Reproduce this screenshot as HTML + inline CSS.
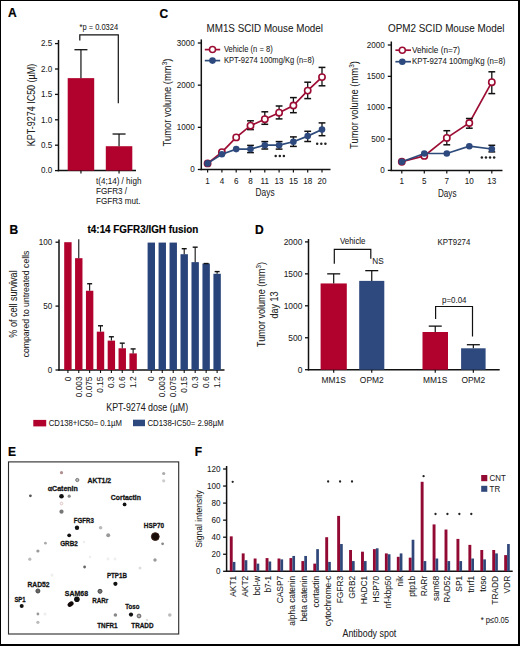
<!DOCTYPE html>
<html><head><meta charset="utf-8"><style>
html,body{margin:0;padding:0;background:#fff;}
body{width:520px;height:646px;overflow:hidden;position:relative;}
svg{position:absolute;left:0;top:0;font-family:"Liberation Sans",sans-serif;}
</style></head><body>
<svg width="520" height="646" viewBox="0 0 520 646">
<rect x="0" y="0" width="520" height="646" fill="#fff"/>
<text x="8.00" y="17.00" font-size="12" text-anchor="start" font-weight="700" fill="#000" stroke="#000" stroke-width="0.2" transform="translate(0 -2.210) scale(1 1.13)">A</text>
<line x1="58.50" y1="40.00" x2="58.50" y2="171.30" stroke="#111" stroke-width="1.5"/>
<line x1="57.80" y1="170.60" x2="136.00" y2="170.60" stroke="#111" stroke-width="1.5"/>
<line x1="55.00" y1="170.60" x2="58.50" y2="170.60" stroke="#111" stroke-width="1.3"/>
<text x="52.30" y="173.50" font-size="8.1" text-anchor="end" font-weight="400" fill="#202020" stroke="#202020" stroke-width="0.05" transform="translate(0 -22.555) scale(1 1.13)">0.0</text>
<line x1="55.00" y1="145.20" x2="58.50" y2="145.20" stroke="#111" stroke-width="1.3"/>
<text x="52.30" y="148.10" font-size="8.1" text-anchor="end" font-weight="400" fill="#202020" stroke="#202020" stroke-width="0.05" transform="translate(0 -19.253) scale(1 1.13)">0.5</text>
<line x1="55.00" y1="119.80" x2="58.50" y2="119.80" stroke="#111" stroke-width="1.3"/>
<text x="52.30" y="122.70" font-size="8.1" text-anchor="end" font-weight="400" fill="#202020" stroke="#202020" stroke-width="0.05" transform="translate(0 -15.951) scale(1 1.13)">1.0</text>
<line x1="55.00" y1="94.40" x2="58.50" y2="94.40" stroke="#111" stroke-width="1.3"/>
<text x="52.30" y="97.30" font-size="8.1" text-anchor="end" font-weight="400" fill="#202020" stroke="#202020" stroke-width="0.05" transform="translate(0 -12.649) scale(1 1.13)">1.5</text>
<line x1="55.00" y1="69.00" x2="58.50" y2="69.00" stroke="#111" stroke-width="1.3"/>
<text x="52.30" y="71.90" font-size="8.1" text-anchor="end" font-weight="400" fill="#202020" stroke="#202020" stroke-width="0.05" transform="translate(0 -9.347) scale(1 1.13)">2.0</text>
<line x1="55.00" y1="43.60" x2="58.50" y2="43.60" stroke="#111" stroke-width="1.3"/>
<text x="52.30" y="46.50" font-size="8.1" text-anchor="end" font-weight="400" fill="#202020" stroke="#202020" stroke-width="0.05" transform="translate(0 -6.045) scale(1 1.13)">2.5</text>
<rect x="67.70" y="78.14" width="26.50" height="92.46" fill="#b0022c"/>
<line x1="80.95" y1="78.14" x2="80.95" y2="49.70" stroke="#111" stroke-width="1.2"/>
<line x1="74.45" y1="49.70" x2="87.45" y2="49.70" stroke="#111" stroke-width="1.3"/>
<line x1="80.95" y1="170.60" x2="80.95" y2="173.60" stroke="#111" stroke-width="1.2"/>
<rect x="105.80" y="146.22" width="26.50" height="24.38" fill="#b0022c"/>
<line x1="119.05" y1="146.22" x2="119.05" y2="134.02" stroke="#111" stroke-width="1.2"/>
<line x1="112.55" y1="134.02" x2="125.55" y2="134.02" stroke="#111" stroke-width="1.3"/>
<line x1="119.05" y1="170.60" x2="119.05" y2="173.60" stroke="#111" stroke-width="1.2"/>
<path d="M79.8 40.4 V34.8 H118.3 V103.3" stroke="#111" stroke-width="1.2" fill="none"/>
<text x="79.50" y="30.20" font-size="7.5" text-anchor="start" font-weight="400" fill="#202020" stroke="#202020" stroke-width="0.05" transform="translate(0 -3.926) scale(1 1.13)" textLength="38.6" lengthAdjust="spacingAndGlyphs">*p = 0.0324</text>
<text x="35.00" y="105.00" font-size="9" text-anchor="middle" font-weight="400" fill="#202020" stroke="#202020" stroke-width="0.05" transform="rotate(-90 35.00 105.00) translate(0 -13.650) scale(1 1.13)" textLength="82.4" lengthAdjust="spacingAndGlyphs">KPT-9274 IC50 (µM)</text>
<text x="96.00" y="184.00" font-size="8.1" text-anchor="start" font-weight="400" fill="#202020" stroke="#202020" stroke-width="0.05" transform="translate(0 -23.920) scale(1 1.13)">t(4;14) / high</text>
<text x="96.00" y="193.80" font-size="8.1" text-anchor="start" font-weight="400" fill="#202020" stroke="#202020" stroke-width="0.05" transform="translate(0 -25.194) scale(1 1.13)">FGFR3 /</text>
<text x="96.00" y="203.60" font-size="8.1" text-anchor="start" font-weight="400" fill="#202020" stroke="#202020" stroke-width="0.05" transform="translate(0 -26.468) scale(1 1.13)">FGFR3 mut.</text>
<text x="159.60" y="17.70" font-size="12" text-anchor="start" font-weight="700" fill="#000" stroke="#000" stroke-width="0.2" transform="translate(0 -2.301) scale(1 1.13)">C</text>
<text x="206.50" y="32.50" font-size="9.85" text-anchor="start" font-weight="400" fill="#202020" stroke="#202020" stroke-width="0.05" transform="translate(0 -4.225) scale(1 1.13)" textLength="116.5" lengthAdjust="spacingAndGlyphs">MM1S SCID Mouse Model</text>
<line x1="201.30" y1="39.40" x2="201.30" y2="170.20" stroke="#111" stroke-width="1.5"/>
<line x1="200.60" y1="169.50" x2="330.50" y2="169.50" stroke="#111" stroke-width="1.5"/>
<line x1="197.80" y1="169.50" x2="201.30" y2="169.50" stroke="#111" stroke-width="1.3"/>
<text x="194.70" y="172.30" font-size="8.1" text-anchor="end" font-weight="400" fill="#202020" stroke="#202020" stroke-width="0.05" transform="translate(0 -22.399) scale(1 1.13)">0</text>
<line x1="197.80" y1="127.33" x2="201.30" y2="127.33" stroke="#111" stroke-width="1.3"/>
<text x="194.70" y="130.13" font-size="8.1" text-anchor="end" font-weight="400" fill="#202020" stroke="#202020" stroke-width="0.05" transform="translate(0 -16.917) scale(1 1.13)">1000</text>
<line x1="197.80" y1="85.16" x2="201.30" y2="85.16" stroke="#111" stroke-width="1.3"/>
<text x="194.70" y="87.96" font-size="8.1" text-anchor="end" font-weight="400" fill="#202020" stroke="#202020" stroke-width="0.05" transform="translate(0 -11.435) scale(1 1.13)">2000</text>
<line x1="197.80" y1="42.99" x2="201.30" y2="42.99" stroke="#111" stroke-width="1.3"/>
<text x="194.70" y="45.79" font-size="8.1" text-anchor="end" font-weight="400" fill="#202020" stroke="#202020" stroke-width="0.05" transform="translate(0 -5.953) scale(1 1.13)">3000</text>
<line x1="207.60" y1="169.50" x2="207.60" y2="172.50" stroke="#111" stroke-width="1.2"/>
<text x="207.60" y="183.80" font-size="8.1" text-anchor="middle" font-weight="400" fill="#202020" stroke="#202020" stroke-width="0.05" transform="translate(0 -23.894) scale(1 1.13)">1</text>
<line x1="221.90" y1="169.50" x2="221.90" y2="172.50" stroke="#111" stroke-width="1.2"/>
<text x="221.90" y="183.80" font-size="8.1" text-anchor="middle" font-weight="400" fill="#202020" stroke="#202020" stroke-width="0.05" transform="translate(0 -23.894) scale(1 1.13)">4</text>
<line x1="236.20" y1="169.50" x2="236.20" y2="172.50" stroke="#111" stroke-width="1.2"/>
<text x="236.20" y="183.80" font-size="8.1" text-anchor="middle" font-weight="400" fill="#202020" stroke="#202020" stroke-width="0.05" transform="translate(0 -23.894) scale(1 1.13)">6</text>
<line x1="250.50" y1="169.50" x2="250.50" y2="172.50" stroke="#111" stroke-width="1.2"/>
<text x="250.50" y="183.80" font-size="8.1" text-anchor="middle" font-weight="400" fill="#202020" stroke="#202020" stroke-width="0.05" transform="translate(0 -23.894) scale(1 1.13)">8</text>
<line x1="264.80" y1="169.50" x2="264.80" y2="172.50" stroke="#111" stroke-width="1.2"/>
<text x="264.80" y="183.80" font-size="8.1" text-anchor="middle" font-weight="400" fill="#202020" stroke="#202020" stroke-width="0.05" transform="translate(0 -23.894) scale(1 1.13)">11</text>
<line x1="279.10" y1="169.50" x2="279.10" y2="172.50" stroke="#111" stroke-width="1.2"/>
<text x="279.10" y="183.80" font-size="8.1" text-anchor="middle" font-weight="400" fill="#202020" stroke="#202020" stroke-width="0.05" transform="translate(0 -23.894) scale(1 1.13)">13</text>
<line x1="293.40" y1="169.50" x2="293.40" y2="172.50" stroke="#111" stroke-width="1.2"/>
<text x="293.40" y="183.80" font-size="8.1" text-anchor="middle" font-weight="400" fill="#202020" stroke="#202020" stroke-width="0.05" transform="translate(0 -23.894) scale(1 1.13)">15</text>
<line x1="307.70" y1="169.50" x2="307.70" y2="172.50" stroke="#111" stroke-width="1.2"/>
<text x="307.70" y="183.80" font-size="8.1" text-anchor="middle" font-weight="400" fill="#202020" stroke="#202020" stroke-width="0.05" transform="translate(0 -23.894) scale(1 1.13)">18</text>
<line x1="322.00" y1="169.50" x2="322.00" y2="172.50" stroke="#111" stroke-width="1.2"/>
<text x="322.00" y="183.80" font-size="8.1" text-anchor="middle" font-weight="400" fill="#202020" stroke="#202020" stroke-width="0.05" transform="translate(0 -23.894) scale(1 1.13)">20</text>
<text x="255.60" y="196.00" font-size="9.6" text-anchor="start" font-weight="400" fill="#202020" stroke="#202020" stroke-width="0.05" transform="translate(0 -25.480) scale(1 1.13)" textLength="19" lengthAdjust="spacingAndGlyphs">Days</text>
<text x="171.50" y="102.50" font-size="9.4" text-anchor="middle" font-weight="400" fill="#202020" stroke="#202020" stroke-width="0.05" transform="rotate(-90 171.50 102.50) translate(0 -13.325) scale(1 1.13)">Tumor volume (mm<tspan dy="-3.6" font-size="6.5">3</tspan><tspan dy="3.6">)</tspan></text>
<path d="M207.60 163.40 L221.90 152.20 L236.20 137.40 L250.50 125.70 L264.80 119.20 L279.10 112.70 L293.40 105.50 L307.70 90.60 L322.00 77.10" stroke="#9c0c33" stroke-width="1.7" fill="none"/>
<line x1="250.50" y1="120.80" x2="250.50" y2="129.60" stroke="#111" stroke-width="1.3"/>
<line x1="247.10" y1="120.80" x2="253.90" y2="120.80" stroke="#111" stroke-width="1.5"/>
<line x1="247.10" y1="129.60" x2="253.90" y2="129.60" stroke="#111" stroke-width="1.5"/>
<line x1="264.80" y1="111.80" x2="264.80" y2="124.30" stroke="#111" stroke-width="1.3"/>
<line x1="261.40" y1="111.80" x2="268.20" y2="111.80" stroke="#111" stroke-width="1.5"/>
<line x1="261.40" y1="124.30" x2="268.20" y2="124.30" stroke="#111" stroke-width="1.5"/>
<line x1="279.10" y1="106.00" x2="279.10" y2="118.90" stroke="#111" stroke-width="1.3"/>
<line x1="275.70" y1="106.00" x2="282.50" y2="106.00" stroke="#111" stroke-width="1.5"/>
<line x1="275.70" y1="118.90" x2="282.50" y2="118.90" stroke="#111" stroke-width="1.5"/>
<line x1="293.40" y1="97.60" x2="293.40" y2="112.70" stroke="#111" stroke-width="1.3"/>
<line x1="290.00" y1="97.60" x2="296.80" y2="97.60" stroke="#111" stroke-width="1.5"/>
<line x1="290.00" y1="112.70" x2="296.80" y2="112.70" stroke="#111" stroke-width="1.5"/>
<line x1="307.70" y1="82.20" x2="307.70" y2="98.60" stroke="#111" stroke-width="1.3"/>
<line x1="304.30" y1="82.20" x2="311.10" y2="82.20" stroke="#111" stroke-width="1.5"/>
<line x1="304.30" y1="98.60" x2="311.10" y2="98.60" stroke="#111" stroke-width="1.5"/>
<line x1="322.00" y1="67.40" x2="322.00" y2="85.80" stroke="#111" stroke-width="1.3"/>
<line x1="318.60" y1="67.40" x2="325.40" y2="67.40" stroke="#111" stroke-width="1.5"/>
<line x1="318.60" y1="85.80" x2="325.40" y2="85.80" stroke="#111" stroke-width="1.5"/>
<circle cx="207.60" cy="163.40" r="3.15" fill="#fff" stroke="#9c0c33" stroke-width="1.6" opacity="1"/>
<circle cx="221.90" cy="152.20" r="3.15" fill="#fff" stroke="#9c0c33" stroke-width="1.6" opacity="1"/>
<circle cx="236.20" cy="137.40" r="3.15" fill="#fff" stroke="#9c0c33" stroke-width="1.6" opacity="1"/>
<circle cx="250.50" cy="125.70" r="3.15" fill="#fff" stroke="#9c0c33" stroke-width="1.6" opacity="1"/>
<circle cx="264.80" cy="119.20" r="3.15" fill="#fff" stroke="#9c0c33" stroke-width="1.6" opacity="1"/>
<circle cx="279.10" cy="112.70" r="3.15" fill="#fff" stroke="#9c0c33" stroke-width="1.6" opacity="1"/>
<circle cx="293.40" cy="105.50" r="3.15" fill="#fff" stroke="#9c0c33" stroke-width="1.6" opacity="1"/>
<circle cx="307.70" cy="90.60" r="3.15" fill="#fff" stroke="#9c0c33" stroke-width="1.6" opacity="1"/>
<circle cx="322.00" cy="77.10" r="3.15" fill="#fff" stroke="#9c0c33" stroke-width="1.6" opacity="1"/>
<path d="M207.60 163.40 L221.90 154.30 L236.20 149.10 L250.50 149.10 L264.80 145.20 L279.10 145.20 L293.40 141.80 L307.70 136.10 L322.00 129.60" stroke="#2c4a7a" stroke-width="1.7" fill="none"/>
<line x1="250.50" y1="145.40" x2="250.50" y2="152.60" stroke="#111" stroke-width="1.3"/>
<line x1="247.10" y1="145.40" x2="253.90" y2="145.40" stroke="#111" stroke-width="1.5"/>
<line x1="247.10" y1="152.60" x2="253.90" y2="152.60" stroke="#111" stroke-width="1.5"/>
<line x1="264.80" y1="141.60" x2="264.80" y2="149.00" stroke="#111" stroke-width="1.3"/>
<line x1="261.40" y1="141.60" x2="268.20" y2="141.60" stroke="#111" stroke-width="1.5"/>
<line x1="261.40" y1="149.00" x2="268.20" y2="149.00" stroke="#111" stroke-width="1.5"/>
<line x1="279.10" y1="141.60" x2="279.10" y2="149.10" stroke="#111" stroke-width="1.3"/>
<line x1="275.70" y1="141.60" x2="282.50" y2="141.60" stroke="#111" stroke-width="1.5"/>
<line x1="275.70" y1="149.10" x2="282.50" y2="149.10" stroke="#111" stroke-width="1.5"/>
<line x1="293.40" y1="136.90" x2="293.40" y2="146.40" stroke="#111" stroke-width="1.3"/>
<line x1="290.00" y1="136.90" x2="296.80" y2="136.90" stroke="#111" stroke-width="1.5"/>
<line x1="290.00" y1="146.40" x2="296.80" y2="146.40" stroke="#111" stroke-width="1.5"/>
<line x1="307.70" y1="131.30" x2="307.70" y2="141.50" stroke="#111" stroke-width="1.3"/>
<line x1="304.30" y1="131.30" x2="311.10" y2="131.30" stroke="#111" stroke-width="1.5"/>
<line x1="304.30" y1="141.50" x2="311.10" y2="141.50" stroke="#111" stroke-width="1.5"/>
<line x1="322.00" y1="122.90" x2="322.00" y2="135.70" stroke="#111" stroke-width="1.3"/>
<line x1="318.60" y1="122.90" x2="325.40" y2="122.90" stroke="#111" stroke-width="1.5"/>
<line x1="318.60" y1="135.70" x2="325.40" y2="135.70" stroke="#111" stroke-width="1.5"/>
<circle cx="207.60" cy="163.40" r="3.30" fill="#2d497e" stroke="none" stroke-width="0" opacity="1"/>
<circle cx="221.90" cy="154.30" r="3.30" fill="#2d497e" stroke="none" stroke-width="0" opacity="1"/>
<circle cx="236.20" cy="149.10" r="3.30" fill="#2d497e" stroke="none" stroke-width="0" opacity="1"/>
<circle cx="250.50" cy="149.10" r="3.30" fill="#2d497e" stroke="none" stroke-width="0" opacity="1"/>
<circle cx="264.80" cy="145.20" r="3.30" fill="#2d497e" stroke="none" stroke-width="0" opacity="1"/>
<circle cx="279.10" cy="145.20" r="3.30" fill="#2d497e" stroke="none" stroke-width="0" opacity="1"/>
<circle cx="293.40" cy="141.80" r="3.30" fill="#2d497e" stroke="none" stroke-width="0" opacity="1"/>
<circle cx="307.70" cy="136.10" r="3.30" fill="#2d497e" stroke="none" stroke-width="0" opacity="1"/>
<circle cx="322.00" cy="129.60" r="3.30" fill="#2d497e" stroke="none" stroke-width="0" opacity="1"/>
<line x1="204.80" y1="49.60" x2="220.20" y2="49.60" stroke="#9c0c33" stroke-width="1.7"/>
<circle cx="212.50" cy="49.60" r="3.00" fill="#fff" stroke="#9c0c33" stroke-width="1.5" opacity="1"/>
<line x1="204.80" y1="60.60" x2="220.20" y2="60.60" stroke="#2c4a7a" stroke-width="1.7"/>
<circle cx="212.50" cy="60.60" r="3.30" fill="#2d497e" stroke="none" stroke-width="0" opacity="1"/>
<text x="223.90" y="52.40" font-size="7.6" text-anchor="start" font-weight="400" fill="#202020" stroke="#202020" stroke-width="0.05" transform="translate(0 -6.812) scale(1 1.13)" textLength="48.8" lengthAdjust="spacingAndGlyphs">Vehicle (n = 8)</text>
<text x="223.90" y="63.40" font-size="7.6" text-anchor="start" font-weight="400" fill="#202020" stroke="#202020" stroke-width="0.05" transform="translate(0 -8.242) scale(1 1.13)" textLength="90.4" lengthAdjust="spacingAndGlyphs">KPT-9274 100mg/Kg (n=8)</text>
<circle cx="275.70" cy="156.10" r="1.25" fill="#222" stroke="none" stroke-width="0" opacity="1"/>
<circle cx="279.80" cy="156.10" r="1.25" fill="#222" stroke="none" stroke-width="0" opacity="1"/>
<circle cx="283.90" cy="156.10" r="1.25" fill="#222" stroke="none" stroke-width="0" opacity="1"/>
<circle cx="317.20" cy="143.80" r="1.25" fill="#222" stroke="none" stroke-width="0" opacity="1"/>
<circle cx="321.30" cy="143.80" r="1.25" fill="#222" stroke="none" stroke-width="0" opacity="1"/>
<circle cx="325.40" cy="143.80" r="1.25" fill="#222" stroke="none" stroke-width="0" opacity="1"/>
<text x="388.00" y="32.50" font-size="9.85" text-anchor="start" font-weight="400" fill="#202020" stroke="#202020" stroke-width="0.05" transform="translate(0 -4.225) scale(1 1.13)" textLength="116.5" lengthAdjust="spacingAndGlyphs">OPM2 SCID Mouse Model</text>
<line x1="391.30" y1="41.50" x2="391.30" y2="171.10" stroke="#111" stroke-width="1.5"/>
<line x1="390.60" y1="170.40" x2="502.50" y2="170.40" stroke="#111" stroke-width="1.5"/>
<line x1="387.80" y1="170.40" x2="391.30" y2="170.40" stroke="#111" stroke-width="1.3"/>
<text x="384.70" y="173.20" font-size="8.1" text-anchor="end" font-weight="400" fill="#202020" stroke="#202020" stroke-width="0.05" transform="translate(0 -22.516) scale(1 1.13)">0</text>
<line x1="387.80" y1="139.05" x2="391.30" y2="139.05" stroke="#111" stroke-width="1.3"/>
<text x="384.70" y="141.85" font-size="8.1" text-anchor="end" font-weight="400" fill="#202020" stroke="#202020" stroke-width="0.05" transform="translate(0 -18.440) scale(1 1.13)">500</text>
<line x1="387.80" y1="107.70" x2="391.30" y2="107.70" stroke="#111" stroke-width="1.3"/>
<text x="384.70" y="110.50" font-size="8.1" text-anchor="end" font-weight="400" fill="#202020" stroke="#202020" stroke-width="0.05" transform="translate(0 -14.365) scale(1 1.13)">1000</text>
<line x1="387.80" y1="76.35" x2="391.30" y2="76.35" stroke="#111" stroke-width="1.3"/>
<text x="384.70" y="79.15" font-size="8.1" text-anchor="end" font-weight="400" fill="#202020" stroke="#202020" stroke-width="0.05" transform="translate(0 -10.289) scale(1 1.13)">1500</text>
<line x1="387.80" y1="45.00" x2="391.30" y2="45.00" stroke="#111" stroke-width="1.3"/>
<text x="384.70" y="47.80" font-size="8.1" text-anchor="end" font-weight="400" fill="#202020" stroke="#202020" stroke-width="0.05" transform="translate(0 -6.214) scale(1 1.13)">2000</text>
<line x1="401.80" y1="170.40" x2="401.80" y2="173.40" stroke="#111" stroke-width="1.2"/>
<text x="401.80" y="183.80" font-size="8.1" text-anchor="middle" font-weight="400" fill="#202020" stroke="#202020" stroke-width="0.05" transform="translate(0 -23.894) scale(1 1.13)">1</text>
<line x1="424.30" y1="170.40" x2="424.30" y2="173.40" stroke="#111" stroke-width="1.2"/>
<text x="424.30" y="183.80" font-size="8.1" text-anchor="middle" font-weight="400" fill="#202020" stroke="#202020" stroke-width="0.05" transform="translate(0 -23.894) scale(1 1.13)">5</text>
<line x1="446.80" y1="170.40" x2="446.80" y2="173.40" stroke="#111" stroke-width="1.2"/>
<text x="446.80" y="183.80" font-size="8.1" text-anchor="middle" font-weight="400" fill="#202020" stroke="#202020" stroke-width="0.05" transform="translate(0 -23.894) scale(1 1.13)">7</text>
<line x1="469.30" y1="170.40" x2="469.30" y2="173.40" stroke="#111" stroke-width="1.2"/>
<text x="469.30" y="183.80" font-size="8.1" text-anchor="middle" font-weight="400" fill="#202020" stroke="#202020" stroke-width="0.05" transform="translate(0 -23.894) scale(1 1.13)">10</text>
<line x1="491.80" y1="170.40" x2="491.80" y2="173.40" stroke="#111" stroke-width="1.2"/>
<text x="491.80" y="183.80" font-size="8.1" text-anchor="middle" font-weight="400" fill="#202020" stroke="#202020" stroke-width="0.05" transform="translate(0 -23.894) scale(1 1.13)">13</text>
<text x="438.00" y="196.60" font-size="9.6" text-anchor="start" font-weight="400" fill="#202020" stroke="#202020" stroke-width="0.05" transform="translate(0 -25.558) scale(1 1.13)" textLength="18.5" lengthAdjust="spacingAndGlyphs">Days</text>
<text x="357.80" y="105.00" font-size="9.4" text-anchor="middle" font-weight="400" fill="#202020" stroke="#202020" stroke-width="0.05" transform="rotate(-90 357.80 105.00) translate(0 -13.650) scale(1 1.13)">Tumor volume (mm<tspan dy="-3.6" font-size="6.5">3</tspan><tspan dy="3.6">)</tspan></text>
<path d="M401.80 161.80 L424.30 155.90 L446.80 137.90 L469.30 123.00 L491.80 82.20" stroke="#9c0c33" stroke-width="1.7" fill="none"/>
<line x1="446.80" y1="130.70" x2="446.80" y2="144.80" stroke="#111" stroke-width="1.3"/>
<line x1="443.40" y1="130.70" x2="450.20" y2="130.70" stroke="#111" stroke-width="1.5"/>
<line x1="443.40" y1="144.80" x2="450.20" y2="144.80" stroke="#111" stroke-width="1.5"/>
<line x1="469.30" y1="118.50" x2="469.30" y2="128.20" stroke="#111" stroke-width="1.3"/>
<line x1="465.90" y1="118.50" x2="472.70" y2="118.50" stroke="#111" stroke-width="1.5"/>
<line x1="465.90" y1="128.20" x2="472.70" y2="128.20" stroke="#111" stroke-width="1.5"/>
<line x1="491.80" y1="71.80" x2="491.80" y2="93.60" stroke="#111" stroke-width="1.3"/>
<line x1="488.40" y1="71.80" x2="495.20" y2="71.80" stroke="#111" stroke-width="1.5"/>
<line x1="488.40" y1="93.60" x2="495.20" y2="93.60" stroke="#111" stroke-width="1.5"/>
<circle cx="401.80" cy="161.80" r="3.15" fill="#fff" stroke="#9c0c33" stroke-width="1.6" opacity="1"/>
<circle cx="424.30" cy="155.90" r="3.15" fill="#fff" stroke="#9c0c33" stroke-width="1.6" opacity="1"/>
<circle cx="446.80" cy="137.90" r="3.15" fill="#fff" stroke="#9c0c33" stroke-width="1.6" opacity="1"/>
<circle cx="469.30" cy="123.00" r="3.15" fill="#fff" stroke="#9c0c33" stroke-width="1.6" opacity="1"/>
<circle cx="491.80" cy="82.20" r="3.15" fill="#fff" stroke="#9c0c33" stroke-width="1.6" opacity="1"/>
<path d="M401.80 161.80 L424.30 153.50 L446.80 153.50 L469.30 146.20 L491.80 149.00" stroke="#2c4a7a" stroke-width="1.7" fill="none"/>
<line x1="491.80" y1="145.30" x2="491.80" y2="151.90" stroke="#111" stroke-width="1.3"/>
<line x1="488.40" y1="145.30" x2="495.20" y2="145.30" stroke="#111" stroke-width="1.5"/>
<line x1="488.40" y1="151.90" x2="495.20" y2="151.90" stroke="#111" stroke-width="1.5"/>
<circle cx="401.80" cy="161.80" r="3.30" fill="#2d497e" stroke="none" stroke-width="0" opacity="1"/>
<circle cx="424.30" cy="153.50" r="3.30" fill="#2d497e" stroke="none" stroke-width="0" opacity="1"/>
<circle cx="446.80" cy="153.50" r="3.30" fill="#2d497e" stroke="none" stroke-width="0" opacity="1"/>
<circle cx="469.30" cy="146.20" r="3.30" fill="#2d497e" stroke="none" stroke-width="0" opacity="1"/>
<circle cx="491.80" cy="149.00" r="3.30" fill="#2d497e" stroke="none" stroke-width="0" opacity="1"/>
<line x1="395.40" y1="50.20" x2="411.00" y2="50.20" stroke="#9c0c33" stroke-width="1.7"/>
<circle cx="402.30" cy="50.20" r="3.00" fill="#fff" stroke="#9c0c33" stroke-width="1.5" opacity="1"/>
<line x1="395.40" y1="61.70" x2="411.00" y2="61.70" stroke="#2c4a7a" stroke-width="1.7"/>
<circle cx="402.30" cy="61.70" r="3.30" fill="#2d497e" stroke="none" stroke-width="0" opacity="1"/>
<text x="412.00" y="53.00" font-size="7.8" text-anchor="start" font-weight="400" fill="#202020" stroke="#202020" stroke-width="0.05" transform="translate(0 -6.890) scale(1 1.13)" textLength="48" lengthAdjust="spacingAndGlyphs">Vehicle (n=7)</text>
<text x="412.00" y="64.50" font-size="7.8" text-anchor="start" font-weight="400" fill="#202020" stroke="#202020" stroke-width="0.05" transform="translate(0 -8.385) scale(1 1.13)" textLength="93.4" lengthAdjust="spacingAndGlyphs">KPT-9274 100mg/Kg (n=8)</text>
<circle cx="481.85" cy="157.60" r="1.25" fill="#222" stroke="none" stroke-width="0" opacity="1"/>
<circle cx="485.95" cy="157.60" r="1.25" fill="#222" stroke="none" stroke-width="0" opacity="1"/>
<circle cx="490.05" cy="157.60" r="1.25" fill="#222" stroke="none" stroke-width="0" opacity="1"/>
<circle cx="494.15" cy="157.60" r="1.25" fill="#222" stroke="none" stroke-width="0" opacity="1"/>
<text x="9.40" y="234.30" font-size="12" text-anchor="start" font-weight="700" fill="#000" stroke="#000" stroke-width="0.2" transform="translate(0 -30.459) scale(1 1.13)">B</text>
<text x="87.60" y="233.00" font-size="9.8" text-anchor="start" font-weight="700" fill="#000" stroke="#000" stroke-width="0.15" transform="translate(0 -30.290) scale(1 1.13)" textLength="110.7" lengthAdjust="spacingAndGlyphs">t4:14 FGFR3/IGH fusion</text>
<line x1="59.00" y1="239.60" x2="59.00" y2="370.70" stroke="#111" stroke-width="1.5"/>
<line x1="58.30" y1="370.00" x2="224.50" y2="370.00" stroke="#111" stroke-width="1.5"/>
<line x1="55.50" y1="370.00" x2="59.00" y2="370.00" stroke="#111" stroke-width="1.3"/>
<text x="52.20" y="372.90" font-size="8.1" text-anchor="end" font-weight="400" fill="#202020" stroke="#202020" stroke-width="0.05" transform="translate(0 -48.477) scale(1 1.13)">0</text>
<line x1="55.50" y1="306.10" x2="59.00" y2="306.10" stroke="#111" stroke-width="1.3"/>
<text x="52.20" y="309.00" font-size="8.1" text-anchor="end" font-weight="400" fill="#202020" stroke="#202020" stroke-width="0.05" transform="translate(0 -40.170) scale(1 1.13)">50</text>
<line x1="55.50" y1="242.20" x2="59.00" y2="242.20" stroke="#111" stroke-width="1.3"/>
<text x="52.20" y="245.10" font-size="8.1" text-anchor="end" font-weight="400" fill="#202020" stroke="#202020" stroke-width="0.05" transform="translate(0 -31.863) scale(1 1.13)">100</text>
<rect x="64.20" y="242.20" width="7.40" height="127.80" fill="#b0022c"/>
<line x1="67.90" y1="370.00" x2="67.90" y2="373.00" stroke="#111" stroke-width="1.1"/>
<text x="70.70" y="376.50" font-size="8.3" text-anchor="end" font-weight="400" fill="#202020" stroke="#202020" stroke-width="0.05" transform="rotate(-90 70.70 376.50) translate(0 -48.945) scale(1 1.13)">0</text>
<rect x="75.07" y="258.18" width="7.40" height="111.83" fill="#b0022c"/>
<line x1="78.77" y1="258.18" x2="78.77" y2="239.26" stroke="#111" stroke-width="1.1"/>
<line x1="78.77" y1="370.00" x2="78.77" y2="373.00" stroke="#111" stroke-width="1.1"/>
<text x="81.57" y="376.50" font-size="8.3" text-anchor="end" font-weight="400" fill="#202020" stroke="#202020" stroke-width="0.05" transform="rotate(-90 81.57 376.50) translate(0 -48.945) scale(1 1.13)">0.003</text>
<rect x="85.94" y="290.76" width="7.40" height="79.24" fill="#b0022c"/>
<line x1="89.64" y1="290.76" x2="89.64" y2="283.74" stroke="#111" stroke-width="1.1"/>
<line x1="87.14" y1="283.74" x2="92.14" y2="283.74" stroke="#111" stroke-width="1.4"/>
<line x1="89.64" y1="370.00" x2="89.64" y2="373.00" stroke="#111" stroke-width="1.1"/>
<text x="92.44" y="376.50" font-size="8.3" text-anchor="end" font-weight="400" fill="#202020" stroke="#202020" stroke-width="0.05" transform="rotate(-90 92.44 376.50) translate(0 -48.945) scale(1 1.13)">0.075</text>
<rect x="96.81" y="331.66" width="7.40" height="38.34" fill="#b0022c"/>
<line x1="100.51" y1="331.66" x2="100.51" y2="325.78" stroke="#111" stroke-width="1.1"/>
<line x1="98.01" y1="325.78" x2="103.01" y2="325.78" stroke="#111" stroke-width="1.4"/>
<line x1="100.51" y1="370.00" x2="100.51" y2="373.00" stroke="#111" stroke-width="1.1"/>
<text x="103.31" y="376.50" font-size="8.3" text-anchor="end" font-weight="400" fill="#202020" stroke="#202020" stroke-width="0.05" transform="rotate(-90 103.31 376.50) translate(0 -48.945) scale(1 1.13)">0.15</text>
<rect x="107.68" y="340.61" width="7.40" height="29.39" fill="#b0022c"/>
<line x1="111.38" y1="340.61" x2="111.38" y2="336.77" stroke="#111" stroke-width="1.1"/>
<line x1="108.88" y1="336.77" x2="113.88" y2="336.77" stroke="#111" stroke-width="1.4"/>
<line x1="111.38" y1="370.00" x2="111.38" y2="373.00" stroke="#111" stroke-width="1.1"/>
<text x="114.18" y="376.50" font-size="8.3" text-anchor="end" font-weight="400" fill="#202020" stroke="#202020" stroke-width="0.05" transform="rotate(-90 114.18 376.50) translate(0 -48.945) scale(1 1.13)">0.3</text>
<rect x="118.55" y="348.27" width="7.40" height="21.73" fill="#b0022c"/>
<line x1="122.25" y1="348.27" x2="122.25" y2="343.16" stroke="#111" stroke-width="1.1"/>
<line x1="119.75" y1="343.16" x2="124.75" y2="343.16" stroke="#111" stroke-width="1.4"/>
<line x1="122.25" y1="370.00" x2="122.25" y2="373.00" stroke="#111" stroke-width="1.1"/>
<text x="125.05" y="376.50" font-size="8.3" text-anchor="end" font-weight="400" fill="#202020" stroke="#202020" stroke-width="0.05" transform="rotate(-90 125.05 376.50) translate(0 -48.945) scale(1 1.13)">0.6</text>
<rect x="129.42" y="353.39" width="7.40" height="16.61" fill="#b0022c"/>
<line x1="133.12" y1="353.39" x2="133.12" y2="348.91" stroke="#111" stroke-width="1.1"/>
<line x1="130.62" y1="348.91" x2="135.62" y2="348.91" stroke="#111" stroke-width="1.4"/>
<line x1="133.12" y1="370.00" x2="133.12" y2="373.00" stroke="#111" stroke-width="1.1"/>
<text x="135.92" y="376.50" font-size="8.3" text-anchor="end" font-weight="400" fill="#202020" stroke="#202020" stroke-width="0.05" transform="rotate(-90 135.92 376.50) translate(0 -48.945) scale(1 1.13)">1.2</text>
<rect x="147.60" y="242.58" width="7.40" height="127.42" fill="#29447a"/>
<line x1="151.30" y1="370.00" x2="151.30" y2="373.00" stroke="#111" stroke-width="1.1"/>
<text x="154.10" y="376.50" font-size="8.3" text-anchor="end" font-weight="400" fill="#202020" stroke="#202020" stroke-width="0.05" transform="rotate(-90 154.10 376.50) translate(0 -48.945) scale(1 1.13)">0</text>
<rect x="158.57" y="242.58" width="7.40" height="127.42" fill="#29447a"/>
<line x1="162.27" y1="370.00" x2="162.27" y2="373.00" stroke="#111" stroke-width="1.1"/>
<text x="165.07" y="376.50" font-size="8.3" text-anchor="end" font-weight="400" fill="#202020" stroke="#202020" stroke-width="0.05" transform="rotate(-90 165.07 376.50) translate(0 -48.945) scale(1 1.13)">0.003</text>
<rect x="169.54" y="242.58" width="7.40" height="127.42" fill="#29447a"/>
<line x1="173.24" y1="370.00" x2="173.24" y2="373.00" stroke="#111" stroke-width="1.1"/>
<text x="176.04" y="376.50" font-size="8.3" text-anchor="end" font-weight="400" fill="#202020" stroke="#202020" stroke-width="0.05" transform="rotate(-90 176.04 376.50) translate(0 -48.945) scale(1 1.13)">0.075</text>
<rect x="180.51" y="254.21" width="7.40" height="115.79" fill="#29447a"/>
<line x1="184.21" y1="254.21" x2="184.21" y2="248.72" stroke="#111" stroke-width="1.1"/>
<line x1="181.71" y1="248.72" x2="186.71" y2="248.72" stroke="#111" stroke-width="1.4"/>
<line x1="184.21" y1="370.00" x2="184.21" y2="373.00" stroke="#111" stroke-width="1.1"/>
<text x="187.01" y="376.50" font-size="8.3" text-anchor="end" font-weight="400" fill="#202020" stroke="#202020" stroke-width="0.05" transform="rotate(-90 187.01 376.50) translate(0 -48.945) scale(1 1.13)">0.15</text>
<rect x="191.48" y="262.14" width="7.40" height="107.86" fill="#29447a"/>
<line x1="195.18" y1="262.14" x2="195.18" y2="247.18" stroke="#111" stroke-width="1.1"/>
<line x1="192.68" y1="247.18" x2="197.68" y2="247.18" stroke="#111" stroke-width="1.4"/>
<line x1="195.18" y1="370.00" x2="195.18" y2="373.00" stroke="#111" stroke-width="1.1"/>
<text x="197.98" y="376.50" font-size="8.3" text-anchor="end" font-weight="400" fill="#202020" stroke="#202020" stroke-width="0.05" transform="rotate(-90 197.98 376.50) translate(0 -48.945) scale(1 1.13)">0.3</text>
<rect x="202.45" y="263.54" width="7.40" height="106.46" fill="#29447a"/>
<line x1="206.15" y1="263.54" x2="206.15" y2="263.54" stroke="#111" stroke-width="1.1"/>
<line x1="203.65" y1="263.54" x2="208.65" y2="263.54" stroke="#111" stroke-width="1.4"/>
<line x1="206.15" y1="370.00" x2="206.15" y2="373.00" stroke="#111" stroke-width="1.1"/>
<text x="208.95" y="376.50" font-size="8.3" text-anchor="end" font-weight="400" fill="#202020" stroke="#202020" stroke-width="0.05" transform="rotate(-90 208.95 376.50) translate(0 -48.945) scale(1 1.13)">0.6</text>
<rect x="213.42" y="273.77" width="7.40" height="96.23" fill="#29447a"/>
<line x1="217.12" y1="273.77" x2="217.12" y2="271.59" stroke="#111" stroke-width="1.1"/>
<line x1="214.62" y1="271.59" x2="219.62" y2="271.59" stroke="#111" stroke-width="1.4"/>
<line x1="217.12" y1="370.00" x2="217.12" y2="373.00" stroke="#111" stroke-width="1.1"/>
<text x="219.92" y="376.50" font-size="8.3" text-anchor="end" font-weight="400" fill="#202020" stroke="#202020" stroke-width="0.05" transform="rotate(-90 219.92 376.50) translate(0 -48.945) scale(1 1.13)">1.2</text>
<text x="106.30" y="411.30" font-size="8.85" text-anchor="start" font-weight="400" fill="#202020" stroke="#202020" stroke-width="0.05" transform="translate(0 -53.469) scale(1 1.13)" textLength="81.8" lengthAdjust="spacingAndGlyphs">KPT-9274 dose (µM)</text>
<text x="17.00" y="304.00" font-size="8.9" text-anchor="middle" font-weight="400" fill="#202020" stroke="#202020" stroke-width="0.05" transform="rotate(-90 17.00 304.00) translate(0 -39.520) scale(1 1.13)" textLength="67.3" lengthAdjust="spacingAndGlyphs">% of cell survival</text>
<text x="29.00" y="304.00" font-size="8.7" text-anchor="middle" font-weight="400" fill="#202020" stroke="#202020" stroke-width="0.05" transform="rotate(-90 29.00 304.00) translate(0 -39.520) scale(1 1.13)" textLength="106.7" lengthAdjust="spacingAndGlyphs">compared to untreated cells</text>
<rect x="33.30" y="419.90" width="12.90" height="6.50" fill="#b0022c"/>
<text x="48.80" y="426.30" font-size="7.7" text-anchor="start" font-weight="400" fill="#202020" stroke="#202020" stroke-width="0.05" transform="translate(0 -55.419) scale(1 1.13)" textLength="73.1" lengthAdjust="spacingAndGlyphs">CD138+IC50= 0.1µM</text>
<rect x="133.00" y="419.70" width="12.00" height="6.50" fill="#2d497e"/>
<text x="147.50" y="426.30" font-size="7.8" text-anchor="start" font-weight="400" fill="#202020" stroke="#202020" stroke-width="0.05" transform="translate(0 -55.419) scale(1 1.13)" textLength="76.2" lengthAdjust="spacingAndGlyphs">CD138-IC50= 2.98µM</text>
<text x="255.00" y="233.70" font-size="12" text-anchor="start" font-weight="700" fill="#000" stroke="#000" stroke-width="0.2" transform="translate(0 -30.381) scale(1 1.13)">D</text>
<line x1="308.50" y1="239.00" x2="308.50" y2="370.40" stroke="#111" stroke-width="1.5"/>
<line x1="307.80" y1="369.70" x2="499.70" y2="369.70" stroke="#111" stroke-width="1.5"/>
<line x1="305.00" y1="369.70" x2="308.50" y2="369.70" stroke="#111" stroke-width="1.3"/>
<text x="302.30" y="372.60" font-size="8.4" text-anchor="end" font-weight="400" fill="#202020" stroke="#202020" stroke-width="0.05" transform="translate(0 -48.438) scale(1 1.13)">0</text>
<line x1="305.00" y1="337.75" x2="308.50" y2="337.75" stroke="#111" stroke-width="1.3"/>
<text x="302.30" y="340.65" font-size="8.4" text-anchor="end" font-weight="400" fill="#202020" stroke="#202020" stroke-width="0.05" transform="translate(0 -44.284) scale(1 1.13)">500</text>
<line x1="305.00" y1="305.80" x2="308.50" y2="305.80" stroke="#111" stroke-width="1.3"/>
<text x="302.30" y="308.70" font-size="8.4" text-anchor="end" font-weight="400" fill="#202020" stroke="#202020" stroke-width="0.05" transform="translate(0 -40.131) scale(1 1.13)">1000</text>
<line x1="305.00" y1="273.85" x2="308.50" y2="273.85" stroke="#111" stroke-width="1.3"/>
<text x="302.30" y="276.75" font-size="8.4" text-anchor="end" font-weight="400" fill="#202020" stroke="#202020" stroke-width="0.05" transform="translate(0 -35.977) scale(1 1.13)">1500</text>
<line x1="305.00" y1="241.90" x2="308.50" y2="241.90" stroke="#111" stroke-width="1.3"/>
<text x="302.30" y="244.80" font-size="8.4" text-anchor="end" font-weight="400" fill="#202020" stroke="#202020" stroke-width="0.05" transform="translate(0 -31.824) scale(1 1.13)">2000</text>
<rect x="320.60" y="283.44" width="26.20" height="86.27" fill="#b0022c"/>
<line x1="333.70" y1="283.44" x2="333.70" y2="273.85" stroke="#111" stroke-width="1.2"/>
<line x1="327.20" y1="273.85" x2="340.20" y2="273.85" stroke="#111" stroke-width="1.3"/>
<line x1="333.70" y1="369.70" x2="333.70" y2="372.70" stroke="#111" stroke-width="1.2"/>
<text x="333.70" y="383.40" font-size="8.4" text-anchor="middle" font-weight="400" fill="#202020" stroke="#202020" stroke-width="0.05" transform="translate(0 -49.842) scale(1 1.13)">MM1S</text>
<rect x="359.20" y="280.88" width="25.10" height="88.82" fill="#2d497e"/>
<line x1="371.75" y1="280.88" x2="371.75" y2="270.65" stroke="#111" stroke-width="1.2"/>
<line x1="365.25" y1="270.65" x2="378.25" y2="270.65" stroke="#111" stroke-width="1.3"/>
<line x1="371.75" y1="369.70" x2="371.75" y2="372.70" stroke="#111" stroke-width="1.2"/>
<text x="371.75" y="383.40" font-size="8.4" text-anchor="middle" font-weight="400" fill="#202020" stroke="#202020" stroke-width="0.05" transform="translate(0 -49.842) scale(1 1.13)">OPM2</text>
<rect x="422.50" y="332.00" width="25.50" height="37.70" fill="#b0022c"/>
<line x1="435.25" y1="332.00" x2="435.25" y2="326.12" stroke="#111" stroke-width="1.2"/>
<line x1="428.75" y1="326.12" x2="441.75" y2="326.12" stroke="#111" stroke-width="1.3"/>
<line x1="435.25" y1="369.70" x2="435.25" y2="372.70" stroke="#111" stroke-width="1.2"/>
<text x="435.25" y="383.40" font-size="8.4" text-anchor="middle" font-weight="400" fill="#202020" stroke="#202020" stroke-width="0.05" transform="translate(0 -49.842) scale(1 1.13)">MM1S</text>
<rect x="461.10" y="348.29" width="24.50" height="21.41" fill="#2d497e"/>
<line x1="473.35" y1="348.29" x2="473.35" y2="344.72" stroke="#111" stroke-width="1.2"/>
<line x1="466.85" y1="344.72" x2="479.85" y2="344.72" stroke="#111" stroke-width="1.3"/>
<line x1="473.35" y1="369.70" x2="473.35" y2="372.70" stroke="#111" stroke-width="1.2"/>
<text x="473.35" y="383.40" font-size="8.4" text-anchor="middle" font-weight="400" fill="#202020" stroke="#202020" stroke-width="0.05" transform="translate(0 -49.842) scale(1 1.13)">OPM2</text>
<path d="M334.3 263.8 V249.3 H370.8 V258.8" stroke="#111" stroke-width="1.2" fill="none"/>
<text x="340.00" y="244.50" font-size="7.9" text-anchor="start" font-weight="400" fill="#202020" stroke="#202020" stroke-width="0.05" transform="translate(0 -31.785) scale(1 1.13)" textLength="25.5" lengthAdjust="spacingAndGlyphs">Vehicle</text>
<text x="372.30" y="264.20" font-size="8.2" text-anchor="start" font-weight="400" fill="#202020" stroke="#202020" stroke-width="0.05" transform="translate(0 -34.346) scale(1 1.13)">NS</text>
<text x="437.60" y="245.00" font-size="7.8" text-anchor="start" font-weight="400" fill="#202020" stroke="#202020" stroke-width="0.05" transform="translate(0 -31.850) scale(1 1.13)" textLength="32.7" lengthAdjust="spacingAndGlyphs">KPT9274</text>
<path d="M435.6 319 V306.5 H472.5 V336.6" stroke="#111" stroke-width="1.2" fill="none"/>
<text x="442.00" y="303.20" font-size="8" text-anchor="start" font-weight="400" fill="#202020" stroke="#202020" stroke-width="0.05" transform="translate(0 -39.416) scale(1 1.13)" textLength="24.5" lengthAdjust="spacingAndGlyphs">p=0.04</text>
<text x="265.20" y="304.50" font-size="9.1" text-anchor="middle" font-weight="400" fill="#202020" stroke="#202020" stroke-width="0.05" transform="rotate(-90 265.20 304.50) translate(0 -39.585) scale(1 1.13)">Tumor volume (mm<tspan dy="-3.4" font-size="6.3">3</tspan><tspan dy="3.4">)</tspan></text>
<text x="277.80" y="305.00" font-size="9.0" text-anchor="middle" font-weight="400" fill="#202020" stroke="#202020" stroke-width="0.05" transform="rotate(-90 277.80 305.00) translate(0 -39.650) scale(1 1.13)">day 13</text>
<text x="8.00" y="456.30" font-size="12" text-anchor="start" font-weight="700" fill="#000" stroke="#000" stroke-width="0.2" transform="translate(0 -59.319) scale(1 1.13)">E</text>
<rect x="8.5" y="461.9" width="170.2" height="172.1" fill="none" stroke="#2a2a2a" stroke-width="1.1"/>
<circle cx="61.50" cy="472.70" r="1.60" fill="#b09090" stroke="none" stroke-width="0" opacity="1"/>
<circle cx="77.30" cy="480.00" r="1.60" fill="#bbb" stroke="#777" stroke-width="1.0" opacity="1"/>
<circle cx="30.40" cy="495.80" r="1.40" fill="#555" stroke="none" stroke-width="0" opacity="1"/>
<circle cx="61.50" cy="496.30" r="2.30" fill="#111" stroke="none" stroke-width="0" opacity="1"/>
<circle cx="69.20" cy="496.20" r="1.60" fill="#888" stroke="none" stroke-width="0" opacity="1"/>
<circle cx="61.50" cy="503.50" r="1.30" fill="#fff" stroke="#e0c0c0" stroke-width="1.0" opacity="1"/>
<circle cx="61.50" cy="511.70" r="2.10" fill="#777" stroke="none" stroke-width="0" opacity="1"/>
<circle cx="77.00" cy="527.80" r="2.20" fill="#111" stroke="none" stroke-width="0" opacity="1"/>
<circle cx="69.20" cy="535.30" r="1.90" fill="#111" stroke="none" stroke-width="0" opacity="1"/>
<circle cx="100.60" cy="527.70" r="1.80" fill="#bbb" stroke="none" stroke-width="0" opacity="1"/>
<circle cx="108.20" cy="535.30" r="2.00" fill="#999" stroke="none" stroke-width="0" opacity="1"/>
<circle cx="163.70" cy="473.50" r="1.60" fill="#aaa" stroke="none" stroke-width="0" opacity="1"/>
<circle cx="163.70" cy="480.80" r="1.60" fill="#ccc" stroke="none" stroke-width="0" opacity="1"/>
<circle cx="124.60" cy="504.40" r="1.90" fill="#111" stroke="none" stroke-width="0" opacity="1"/>
<circle cx="155.30" cy="536.60" r="3.90" fill="#1a0c08" stroke="#3a2018" stroke-width="1.0" opacity="1"/>
<circle cx="162.60" cy="543.80" r="1.40" fill="#888" stroke="none" stroke-width="0" opacity="1"/>
<circle cx="45.40" cy="543.20" r="1.40" fill="#aaa" stroke="none" stroke-width="0" opacity="1"/>
<circle cx="37.90" cy="551.00" r="1.60" fill="#999" stroke="none" stroke-width="0" opacity="1"/>
<circle cx="29.80" cy="559.20" r="1.60" fill="#bbb" stroke="none" stroke-width="0" opacity="1"/>
<circle cx="84.60" cy="567.00" r="1.40" fill="#666" stroke="none" stroke-width="0" opacity="1"/>
<circle cx="155.00" cy="560.00" r="1.70" fill="#999" stroke="none" stroke-width="0" opacity="1"/>
<circle cx="37.90" cy="591.00" r="2.00" fill="#666" stroke="#444" stroke-width="1.0" opacity="1"/>
<circle cx="21.70" cy="606.00" r="2.00" fill="#111" stroke="none" stroke-width="0" opacity="1"/>
<circle cx="76.90" cy="599.20" r="2.80" fill="#111" stroke="none" stroke-width="0" opacity="1"/>
<circle cx="37.90" cy="614.00" r="1.40" fill="#999" stroke="none" stroke-width="0" opacity="1"/>
<circle cx="37.90" cy="622.30" r="1.60" fill="#bbb" stroke="none" stroke-width="0" opacity="1"/>
<circle cx="115.40" cy="583.80" r="2.10" fill="#111" stroke="none" stroke-width="0" opacity="1"/>
<circle cx="100.00" cy="591.30" r="2.00" fill="#777" stroke="#444" stroke-width="1.0" opacity="1"/>
<circle cx="115.40" cy="615.00" r="1.80" fill="#888" stroke="none" stroke-width="0" opacity="1"/>
<circle cx="131.00" cy="614.60" r="2.10" fill="#111" stroke="none" stroke-width="0" opacity="1"/>
<circle cx="139.00" cy="616.00" r="1.90" fill="#aaa" stroke="#666" stroke-width="1.0" opacity="1"/>
<circle cx="169.80" cy="615.00" r="1.80" fill="#bbb" stroke="none" stroke-width="0" opacity="1"/>
<circle cx="140.00" cy="568.00" r="1.50" fill="#ddd" stroke="none" stroke-width="0" opacity="1"/>
<circle cx="108.00" cy="559.00" r="1.40" fill="#eee" stroke="none" stroke-width="0" opacity="1"/>
<circle cx="115.00" cy="559.00" r="1.40" fill="#eee" stroke="none" stroke-width="0" opacity="1"/>
<circle cx="52.00" cy="575.00" r="1.50" fill="#eee" stroke="none" stroke-width="0" opacity="1"/>
<circle cx="45.00" cy="614.00" r="1.60" fill="#eee" stroke="none" stroke-width="0" opacity="1"/>
<circle cx="147.00" cy="620.00" r="1.30" fill="#ddd" stroke="none" stroke-width="0" opacity="1"/>
<circle cx="84.00" cy="542.00" r="1.20" fill="#eee" stroke="none" stroke-width="0" opacity="1"/>
<circle cx="90.00" cy="557.00" r="1.20" fill="#eee" stroke="none" stroke-width="0" opacity="1"/>
<ellipse cx="70.6" cy="604.2" rx="3.3" ry="2.3" transform="rotate(-35 70.6 604.2)" fill="#120808"/>
<text x="87.50" y="482.60" font-size="7.1" text-anchor="start" font-weight="700" fill="#111" stroke="#111" stroke-width="0.25" transform="translate(0 -57.912) scale(1 1.12)" textLength="23.7" lengthAdjust="spacingAndGlyphs">AKT1/2</text>
<text x="47.70" y="491.20" font-size="7.1" text-anchor="start" font-weight="700" fill="#111" stroke="#111" stroke-width="0.25" transform="translate(0 -58.944) scale(1 1.12)" textLength="30.2" lengthAdjust="spacingAndGlyphs">αCatenin</text>
<text x="110.80" y="500.20" font-size="7.1" text-anchor="start" font-weight="700" fill="#111" stroke="#111" stroke-width="0.25" transform="translate(0 -60.024) scale(1 1.12)" textLength="30.2" lengthAdjust="spacingAndGlyphs">Cortactin</text>
<text x="73.80" y="523.10" font-size="7.1" text-anchor="start" font-weight="700" fill="#111" stroke="#111" stroke-width="0.25" transform="translate(0 -62.772) scale(1 1.12)" textLength="20" lengthAdjust="spacingAndGlyphs">FGFR3</text>
<text x="143.80" y="528.10" font-size="7.1" text-anchor="start" font-weight="700" fill="#111" stroke="#111" stroke-width="0.25" transform="translate(0 -63.372) scale(1 1.12)" textLength="20.2" lengthAdjust="spacingAndGlyphs">HSP70</text>
<text x="60.20" y="546.10" font-size="7.1" text-anchor="start" font-weight="700" fill="#111" stroke="#111" stroke-width="0.25" transform="translate(0 -65.532) scale(1 1.12)" textLength="17.6" lengthAdjust="spacingAndGlyphs">GRB2</text>
<text x="106.90" y="577.70" font-size="7.1" text-anchor="start" font-weight="700" fill="#111" stroke="#111" stroke-width="0.25" transform="translate(0 -69.324) scale(1 1.12)" textLength="20" lengthAdjust="spacingAndGlyphs">PTP1B</text>
<text x="27.50" y="587.30" font-size="7.1" text-anchor="start" font-weight="700" fill="#111" stroke="#111" stroke-width="0.25" transform="translate(0 -70.476) scale(1 1.12)" textLength="22.1" lengthAdjust="spacingAndGlyphs">RAD52</text>
<text x="64.80" y="596.00" font-size="7.1" text-anchor="start" font-weight="700" fill="#111" stroke="#111" stroke-width="0.25" transform="translate(0 -71.520) scale(1 1.12)" textLength="23.2" lengthAdjust="spacingAndGlyphs">SAM68</text>
<text x="14.40" y="601.70" font-size="7.1" text-anchor="start" font-weight="700" fill="#111" stroke="#111" stroke-width="0.25" transform="translate(0 -72.204) scale(1 1.12)" textLength="11.2" lengthAdjust="spacingAndGlyphs">SP1</text>
<text x="92.30" y="602.70" font-size="7.1" text-anchor="start" font-weight="700" fill="#111" stroke="#111" stroke-width="0.25" transform="translate(0 -72.324) scale(1 1.12)" textLength="16" lengthAdjust="spacingAndGlyphs">RARr</text>
<text x="125.20" y="609.40" font-size="7.1" text-anchor="start" font-weight="700" fill="#111" stroke="#111" stroke-width="0.25" transform="translate(0 -73.128) scale(1 1.12)" textLength="14.2" lengthAdjust="spacingAndGlyphs">Toso</text>
<text x="97.30" y="628.20" font-size="7.1" text-anchor="start" font-weight="700" fill="#111" stroke="#111" stroke-width="0.25" transform="translate(0 -75.384) scale(1 1.12)" textLength="20.2" lengthAdjust="spacingAndGlyphs">TNFR1</text>
<text x="131.30" y="628.20" font-size="7.1" text-anchor="start" font-weight="700" fill="#111" stroke="#111" stroke-width="0.25" transform="translate(0 -75.384) scale(1 1.12)" textLength="22.2" lengthAdjust="spacingAndGlyphs">TRADD</text>
<text x="194.80" y="455.80" font-size="12" text-anchor="start" font-weight="700" fill="#000" stroke="#000" stroke-width="0.2" transform="translate(0 -59.254) scale(1 1.13)">F</text>
<line x1="226.60" y1="466.00" x2="226.60" y2="572.00" stroke="#111" stroke-width="1.5"/>
<line x1="225.90" y1="571.30" x2="512.70" y2="571.30" stroke="#111" stroke-width="1.5"/>
<line x1="223.10" y1="571.30" x2="226.60" y2="571.30" stroke="#111" stroke-width="1.3"/>
<text x="220.60" y="574.10" font-size="8.1" text-anchor="end" font-weight="400" fill="#202020" stroke="#202020" stroke-width="0.05" transform="translate(0 -74.633) scale(1 1.13)">0</text>
<line x1="223.10" y1="554.25" x2="226.60" y2="554.25" stroke="#111" stroke-width="1.3"/>
<text x="220.60" y="557.05" font-size="8.1" text-anchor="end" font-weight="400" fill="#202020" stroke="#202020" stroke-width="0.05" transform="translate(0 -72.416) scale(1 1.13)">20</text>
<line x1="223.10" y1="537.20" x2="226.60" y2="537.20" stroke="#111" stroke-width="1.3"/>
<text x="220.60" y="540.00" font-size="8.1" text-anchor="end" font-weight="400" fill="#202020" stroke="#202020" stroke-width="0.05" transform="translate(0 -70.200) scale(1 1.13)">40</text>
<line x1="223.10" y1="520.15" x2="226.60" y2="520.15" stroke="#111" stroke-width="1.3"/>
<text x="220.60" y="522.95" font-size="8.1" text-anchor="end" font-weight="400" fill="#202020" stroke="#202020" stroke-width="0.05" transform="translate(0 -67.983) scale(1 1.13)">60</text>
<line x1="223.10" y1="503.10" x2="226.60" y2="503.10" stroke="#111" stroke-width="1.3"/>
<text x="220.60" y="505.90" font-size="8.1" text-anchor="end" font-weight="400" fill="#202020" stroke="#202020" stroke-width="0.05" transform="translate(0 -65.767) scale(1 1.13)">80</text>
<line x1="223.10" y1="486.05" x2="226.60" y2="486.05" stroke="#111" stroke-width="1.3"/>
<text x="220.60" y="488.85" font-size="8.1" text-anchor="end" font-weight="400" fill="#202020" stroke="#202020" stroke-width="0.05" transform="translate(0 -63.550) scale(1 1.13)">100</text>
<line x1="223.10" y1="469.00" x2="226.60" y2="469.00" stroke="#111" stroke-width="1.3"/>
<text x="220.60" y="471.80" font-size="8.1" text-anchor="end" font-weight="400" fill="#202020" stroke="#202020" stroke-width="0.05" transform="translate(0 -61.334) scale(1 1.13)">120</text>
<rect x="229.80" y="536.35" width="2.90" height="34.95" fill="#920a33"/>
<rect x="232.70" y="561.92" width="2.70" height="9.38" fill="#30477a"/>
<text x="235.70" y="575.80" font-size="8.4" text-anchor="end" font-weight="400" fill="#202020" stroke="#202020" stroke-width="0.05" transform="rotate(-90 235.70 575.80) translate(0 -74.854) scale(1 1.13)">AKT1</text>
<circle cx="232.70" cy="481.80" r="1.15" fill="#222" stroke="none" stroke-width="0" opacity="1"/>
<rect x="241.73" y="553.40" width="2.90" height="17.90" fill="#920a33"/>
<rect x="244.63" y="560.22" width="2.70" height="11.08" fill="#30477a"/>
<text x="247.63" y="575.80" font-size="8.4" text-anchor="end" font-weight="400" fill="#202020" stroke="#202020" stroke-width="0.05" transform="rotate(-90 247.63 575.80) translate(0 -74.854) scale(1 1.13)">AKT2</text>
<rect x="253.66" y="558.51" width="2.90" height="12.79" fill="#920a33"/>
<rect x="256.56" y="563.63" width="2.70" height="7.67" fill="#30477a"/>
<text x="259.56" y="575.80" font-size="8.4" text-anchor="end" font-weight="400" fill="#202020" stroke="#202020" stroke-width="0.05" transform="rotate(-90 259.56 575.80) translate(0 -74.854) scale(1 1.13)">bcl-w</text>
<rect x="265.59" y="558.09" width="2.90" height="13.21" fill="#920a33"/>
<rect x="268.49" y="561.50" width="2.70" height="9.80" fill="#30477a"/>
<text x="271.49" y="575.80" font-size="8.4" text-anchor="end" font-weight="400" fill="#202020" stroke="#202020" stroke-width="0.05" transform="rotate(-90 271.49 575.80) translate(0 -74.854) scale(1 1.13)">b7-1</text>
<rect x="277.52" y="558.51" width="2.90" height="12.79" fill="#920a33"/>
<rect x="280.42" y="559.37" width="2.70" height="11.94" fill="#30477a"/>
<text x="283.42" y="575.80" font-size="8.4" text-anchor="end" font-weight="400" fill="#202020" stroke="#202020" stroke-width="0.05" transform="rotate(-90 283.42 575.80) translate(0 -74.854) scale(1 1.13)">CASP7</text>
<rect x="289.45" y="558.09" width="2.90" height="13.21" fill="#920a33"/>
<rect x="292.35" y="555.95" width="2.70" height="15.35" fill="#30477a"/>
<text x="295.35" y="575.80" font-size="8.4" text-anchor="end" font-weight="400" fill="#202020" stroke="#202020" stroke-width="0.05" transform="rotate(-90 295.35 575.80) translate(0 -74.854) scale(1 1.13)">alpha catenin</text>
<rect x="301.38" y="561.07" width="2.90" height="10.23" fill="#920a33"/>
<rect x="304.28" y="555.95" width="2.70" height="15.35" fill="#30477a"/>
<text x="307.28" y="575.80" font-size="8.4" text-anchor="end" font-weight="400" fill="#202020" stroke="#202020" stroke-width="0.05" transform="rotate(-90 307.28 575.80) translate(0 -74.854) scale(1 1.13)">beta catenin</text>
<rect x="313.31" y="563.63" width="2.90" height="7.67" fill="#920a33"/>
<rect x="316.21" y="549.13" width="2.70" height="22.16" fill="#30477a"/>
<text x="319.21" y="575.80" font-size="8.4" text-anchor="end" font-weight="400" fill="#202020" stroke="#202020" stroke-width="0.05" transform="rotate(-90 319.21 575.80) translate(0 -74.854) scale(1 1.13)">cortactin</text>
<rect x="325.24" y="537.20" width="2.90" height="34.10" fill="#920a33"/>
<rect x="328.14" y="561.92" width="2.70" height="9.38" fill="#30477a"/>
<text x="331.14" y="575.80" font-size="8.4" text-anchor="end" font-weight="400" fill="#202020" stroke="#202020" stroke-width="0.05" transform="rotate(-90 331.14 575.80) translate(0 -74.854) scale(1 1.13)">cytochrome-c</text>
<circle cx="328.14" cy="481.50" r="1.15" fill="#222" stroke="none" stroke-width="0" opacity="1"/>
<rect x="337.17" y="515.89" width="2.90" height="55.41" fill="#920a33"/>
<rect x="340.07" y="544.02" width="2.70" height="27.28" fill="#30477a"/>
<text x="343.07" y="575.80" font-size="8.4" text-anchor="end" font-weight="400" fill="#202020" stroke="#202020" stroke-width="0.05" transform="rotate(-90 343.07 575.80) translate(0 -74.854) scale(1 1.13)">FGFR3</text>
<circle cx="340.07" cy="481.50" r="1.15" fill="#222" stroke="none" stroke-width="0" opacity="1"/>
<rect x="349.10" y="549.99" width="2.90" height="21.31" fill="#920a33"/>
<rect x="352.00" y="561.07" width="2.70" height="10.23" fill="#30477a"/>
<text x="355.00" y="575.80" font-size="8.4" text-anchor="end" font-weight="400" fill="#202020" stroke="#202020" stroke-width="0.05" transform="rotate(-90 355.00 575.80) translate(0 -74.854) scale(1 1.13)">GRB2</text>
<circle cx="352.00" cy="481.50" r="1.15" fill="#222" stroke="none" stroke-width="0" opacity="1"/>
<rect x="361.03" y="551.69" width="2.90" height="19.61" fill="#920a33"/>
<rect x="363.93" y="561.07" width="2.70" height="10.23" fill="#30477a"/>
<text x="366.93" y="575.80" font-size="8.4" text-anchor="end" font-weight="400" fill="#202020" stroke="#202020" stroke-width="0.05" transform="rotate(-90 366.93 575.80) translate(0 -74.854) scale(1 1.13)">HADC1</text>
<rect x="372.96" y="549.13" width="2.90" height="22.16" fill="#920a33"/>
<rect x="375.86" y="548.28" width="2.70" height="23.02" fill="#30477a"/>
<text x="378.86" y="575.80" font-size="8.4" text-anchor="end" font-weight="400" fill="#202020" stroke="#202020" stroke-width="0.05" transform="rotate(-90 378.86 575.80) translate(0 -74.854) scale(1 1.13)">HSP70</text>
<rect x="384.89" y="553.40" width="2.90" height="17.90" fill="#920a33"/>
<rect x="387.79" y="554.25" width="2.70" height="17.05" fill="#30477a"/>
<text x="390.79" y="575.80" font-size="8.4" text-anchor="end" font-weight="400" fill="#202020" stroke="#202020" stroke-width="0.05" transform="rotate(-90 390.79 575.80) translate(0 -74.854) scale(1 1.13)">nf-kbp50</text>
<rect x="396.82" y="556.81" width="2.90" height="14.49" fill="#920a33"/>
<rect x="399.72" y="553.40" width="2.70" height="17.90" fill="#30477a"/>
<text x="402.72" y="575.80" font-size="8.4" text-anchor="end" font-weight="400" fill="#202020" stroke="#202020" stroke-width="0.05" transform="rotate(-90 402.72 575.80) translate(0 -74.854) scale(1 1.13)">nik</text>
<rect x="408.75" y="557.66" width="2.90" height="13.64" fill="#920a33"/>
<rect x="411.65" y="539.76" width="2.70" height="31.54" fill="#30477a"/>
<text x="414.65" y="575.80" font-size="8.4" text-anchor="end" font-weight="400" fill="#202020" stroke="#202020" stroke-width="0.05" transform="rotate(-90 414.65 575.80) translate(0 -74.854) scale(1 1.13)">ptp1b</text>
<rect x="420.68" y="481.79" width="2.90" height="89.51" fill="#920a33"/>
<rect x="423.58" y="561.07" width="2.70" height="10.23" fill="#30477a"/>
<text x="426.58" y="575.80" font-size="8.4" text-anchor="end" font-weight="400" fill="#202020" stroke="#202020" stroke-width="0.05" transform="rotate(-90 426.58 575.80) translate(0 -74.854) scale(1 1.13)">RARr</text>
<circle cx="423.58" cy="476.20" r="1.15" fill="#222" stroke="none" stroke-width="0" opacity="1"/>
<rect x="432.61" y="524.41" width="2.90" height="46.89" fill="#920a33"/>
<rect x="435.51" y="558.51" width="2.70" height="12.79" fill="#30477a"/>
<text x="438.51" y="575.80" font-size="8.4" text-anchor="end" font-weight="400" fill="#202020" stroke="#202020" stroke-width="0.05" transform="rotate(-90 438.51 575.80) translate(0 -74.854) scale(1 1.13)">sam68</text>
<circle cx="435.51" cy="514.00" r="1.15" fill="#222" stroke="none" stroke-width="0" opacity="1"/>
<rect x="444.54" y="529.53" width="2.90" height="41.77" fill="#920a33"/>
<rect x="447.44" y="561.07" width="2.70" height="10.23" fill="#30477a"/>
<text x="450.44" y="575.80" font-size="8.4" text-anchor="end" font-weight="400" fill="#202020" stroke="#202020" stroke-width="0.05" transform="rotate(-90 450.44 575.80) translate(0 -74.854) scale(1 1.13)">RAD52</text>
<circle cx="447.44" cy="514.00" r="1.15" fill="#222" stroke="none" stroke-width="0" opacity="1"/>
<rect x="456.47" y="538.90" width="2.90" height="32.40" fill="#920a33"/>
<rect x="459.37" y="561.07" width="2.70" height="10.23" fill="#30477a"/>
<text x="462.37" y="575.80" font-size="8.4" text-anchor="end" font-weight="400" fill="#202020" stroke="#202020" stroke-width="0.05" transform="rotate(-90 462.37 575.80) translate(0 -74.854) scale(1 1.13)">SP1</text>
<circle cx="459.37" cy="514.00" r="1.15" fill="#222" stroke="none" stroke-width="0" opacity="1"/>
<rect x="468.40" y="544.87" width="2.90" height="26.43" fill="#920a33"/>
<rect x="471.30" y="558.51" width="2.70" height="12.79" fill="#30477a"/>
<text x="474.30" y="575.80" font-size="8.4" text-anchor="end" font-weight="400" fill="#202020" stroke="#202020" stroke-width="0.05" transform="rotate(-90 474.30 575.80) translate(0 -74.854) scale(1 1.13)">tnrf1</text>
<circle cx="471.30" cy="514.00" r="1.15" fill="#222" stroke="none" stroke-width="0" opacity="1"/>
<rect x="480.33" y="549.99" width="2.90" height="21.31" fill="#920a33"/>
<rect x="483.23" y="559.37" width="2.70" height="11.94" fill="#30477a"/>
<text x="486.23" y="575.80" font-size="8.4" text-anchor="end" font-weight="400" fill="#202020" stroke="#202020" stroke-width="0.05" transform="rotate(-90 486.23 575.80) translate(0 -74.854) scale(1 1.13)">toso</text>
<rect x="492.26" y="549.99" width="2.90" height="21.31" fill="#920a33"/>
<rect x="495.16" y="553.40" width="2.70" height="17.90" fill="#30477a"/>
<text x="498.16" y="575.80" font-size="8.4" text-anchor="end" font-weight="400" fill="#202020" stroke="#202020" stroke-width="0.05" transform="rotate(-90 498.16 575.80) translate(0 -74.854) scale(1 1.13)">TRADD</text>
<rect x="504.19" y="555.10" width="2.90" height="16.20" fill="#920a33"/>
<rect x="507.09" y="544.02" width="2.70" height="27.28" fill="#30477a"/>
<text x="510.09" y="575.80" font-size="8.4" text-anchor="end" font-weight="400" fill="#202020" stroke="#202020" stroke-width="0.05" transform="rotate(-90 510.09 575.80) translate(0 -74.854) scale(1 1.13)">VDR</text>
<rect x="481.20" y="475.00" width="6.10" height="6.20" fill="#920a33"/>
<text x="489.60" y="481.00" font-size="7.9" text-anchor="start" font-weight="400" fill="#202020" stroke="#202020" stroke-width="0.05" transform="translate(0 -62.530) scale(1 1.13)">CNT</text>
<rect x="481.20" y="485.80" width="6.10" height="6.00" fill="#30477a"/>
<text x="489.60" y="492.00" font-size="7.9" text-anchor="start" font-weight="400" fill="#202020" stroke="#202020" stroke-width="0.05" transform="translate(0 -63.960) scale(1 1.13)">TR</text>
<text x="342.50" y="637.50" font-size="9.6" text-anchor="start" font-weight="400" fill="#202020" stroke="#202020" stroke-width="0.05" transform="translate(0 -82.875) scale(1 1.13)" textLength="53.8" lengthAdjust="spacingAndGlyphs">Antibody spot</text>
<text x="480.80" y="623.00" font-size="7.6" text-anchor="start" font-weight="400" fill="#202020" stroke="#202020" stroke-width="0.05" transform="translate(0 -80.990) scale(1 1.13)" textLength="28.2" lengthAdjust="spacingAndGlyphs">* p≤0.05</text>
<text x="202.00" y="519.00" font-size="8.55" text-anchor="middle" font-weight="400" fill="#202020" stroke="#202020" stroke-width="0.05" transform="rotate(-90 202.00 519.00) translate(0 -67.470) scale(1 1.13)" textLength="57.5" lengthAdjust="spacingAndGlyphs">Signal intensity</text>
<rect x="0" y="0" width="520" height="1" fill="#000"/>
<rect x="0" y="0" width="1" height="646" fill="#000"/>
<rect x="518" y="0" width="2" height="646" fill="#000"/>
<rect x="0" y="644" width="520" height="2" fill="#000"/>
</svg>
</body></html>
